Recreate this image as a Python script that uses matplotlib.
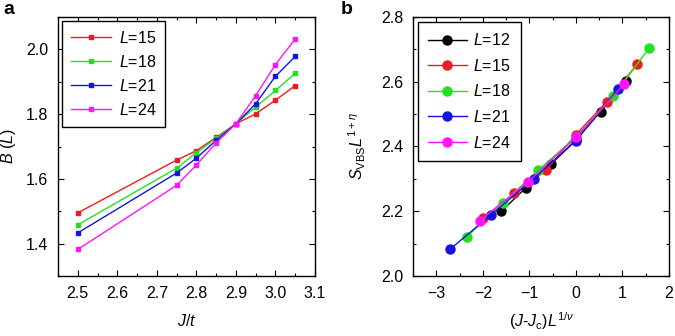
import numpy as np
import matplotlib
matplotlib.use("Agg")
import matplotlib.pyplot as plt
from matplotlib.ticker import MultipleLocator, FormatStrFormatter

plt.rcParams['font.family'] = ['Liberation Sans', 'DejaVu Sans']
plt.rcParams['mathtext.fontset'] = 'custom'
plt.rcParams['mathtext.rm'] = 'Liberation Sans'
plt.rcParams['mathtext.it'] = 'Liberation Sans:italic'
plt.rcParams['mathtext.bf'] = 'Liberation Sans:bold'

# panel a: B(L) vs J/t
J = [2.5, 2.75, 2.8, 2.85, 2.9, 2.95, 3.0, 3.05]
B_15 = [1.495, 1.658, 1.687, 1.728, 1.770, 1.801, 1.843, 1.888]
B_18 = [1.458, 1.633, 1.681, 1.725, 1.770, 1.822, 1.873, 1.926]
B_21 = [1.433, 1.618, 1.664, 1.719, 1.770, 1.832, 1.917, 1.978]
B_24 = [1.382, 1.580, 1.643, 1.711, 1.770, 1.857, 1.953, 2.032]

# panel b: data collapse
x_12 = [-1.60, -1.08, -0.54, 0.0, 0.53, 1.07]
y_12 = [2.200, 2.272, 2.345, 2.420, 2.508, 2.603]
x_15 = [-1.99, -1.32, -0.64, 0.0, 0.66, 1.32]
y_15 = [2.178, 2.255, 2.326, 2.437, 2.538, 2.655]
x_18 = [-2.34, -1.57, -0.81, 0.0, 0.80, 1.57]
y_18 = [2.122, 2.226, 2.326, 2.430, 2.555, 2.703]
x_21 = [-2.71, -1.83, -0.91, 0.0, 0.90]
y_21 = [2.082, 2.188, 2.300, 2.418, 2.577]
x_24 = [-2.07, -1.04, 0.0, 1.03]
y_24 = [2.170, 2.290, 2.428, 2.592]

red = '#ee1c1c'
green = '#22e022'
blue = '#1414dc'
magenta = '#ff14ff'

fig = plt.figure(figsize=(6.75, 3.36), dpi=100)
ax1 = fig.add_axes([58/675, 60/336, 257/675, 259/336])
ax2 = fig.add_axes([413/675, 60/336, 256/675, 259/336])


def style(ax):
    ax.tick_params(which='both', direction='in', top=True, right=True, labelsize=11.5)
    ax.tick_params(which='major', length=4, width=0.8, pad=7)
    ax.tick_params(which='minor', length=2.5, width=0.8)
    for s in ax.spines.values():
        s.set_linewidth(1.0)


# a
for B, c, L in [(B_15, red, 15), (B_18, green, 18), (B_21, blue, 21), (B_24, magenta, 24)]:
    ax1.plot(J, B, '-s', color=c, lw=1.0, ms=3.2, label='$L$=%d' % L)
ax1.set_xlim(2.45, 3.1)
ax1.set_ylim(1.3, 2.1)
ax1.xaxis.set_major_locator(MultipleLocator(0.1))
ax1.xaxis.set_minor_locator(MultipleLocator(0.05))
ax1.yaxis.set_major_locator(MultipleLocator(0.2))
ax1.yaxis.set_minor_locator(MultipleLocator(0.1))
ax1.xaxis.set_major_formatter(FormatStrFormatter('%.1f'))
ax1.yaxis.set_major_formatter(FormatStrFormatter('%.1f'))
style(ax1)
ax1.set_xlabel('$J/t$', fontsize=11.5, labelpad=9)
ax1.set_ylabel('$B$ ($L$)', fontsize=11.5)
ax1.yaxis.set_label_coords(-0.155, 0.5)
leg = ax1.legend(loc='upper left', fontsize=11.5, handlelength=2.5, handletextpad=0.5,
                 labelspacing=0.5, borderpad=0.55, fancybox=False, edgecolor='black',
                 framealpha=1, borderaxespad=0.25)
leg.get_frame().set_linewidth(1.0)

# b
for x, y, c, L in [(x_12, y_12, 'black', 12), (x_15, y_15, red, 15), (x_18, y_18, green, 18),
                   (x_21, y_21, blue, 21), (x_24, y_24, magenta, 24)]:
    ax2.plot(x, y, '-o', color=c, lw=1.0, ms=6.5, label='$L$=%d' % L)
ax2.set_xlim(-3.5, 2)
ax2.set_ylim(2.0, 2.8)
ax2.xaxis.set_major_locator(MultipleLocator(1))
ax2.xaxis.set_minor_locator(MultipleLocator(0.5))
ax2.yaxis.set_major_locator(MultipleLocator(0.2))
ax2.yaxis.set_minor_locator(MultipleLocator(0.1))
ax2.yaxis.set_major_formatter(FormatStrFormatter('%.1f'))
style(ax2)
ax2.set_xlabel(r'($J$-$J_{\mathrm{c}}$)$L^{1/\nu}$', fontsize=11.5, labelpad=7)
ax2.set_ylabel(r'$S_{\mathrm{VBS}}L^{1+\eta}$', fontsize=11.5)
ax2.yaxis.set_label_coords(-0.175, 0.5)
leg2 = ax2.legend(loc='upper left', fontsize=11.5, handlelength=2.4, handletextpad=0.4,
                  labelspacing=0.6, borderpad=0.65, fancybox=False, edgecolor='black',
                  framealpha=1, borderaxespad=0.3)
leg2.get_frame().set_linewidth(1.0)

fig.text(3/675, 1 - 14/336, 'a', fontsize=14, fontweight='bold', va='baseline')
fig.text(341/675, 1 - 14/336, 'b', fontsize=14, fontweight='bold', va='baseline')

fig.savefig('out.png', dpi=100)
